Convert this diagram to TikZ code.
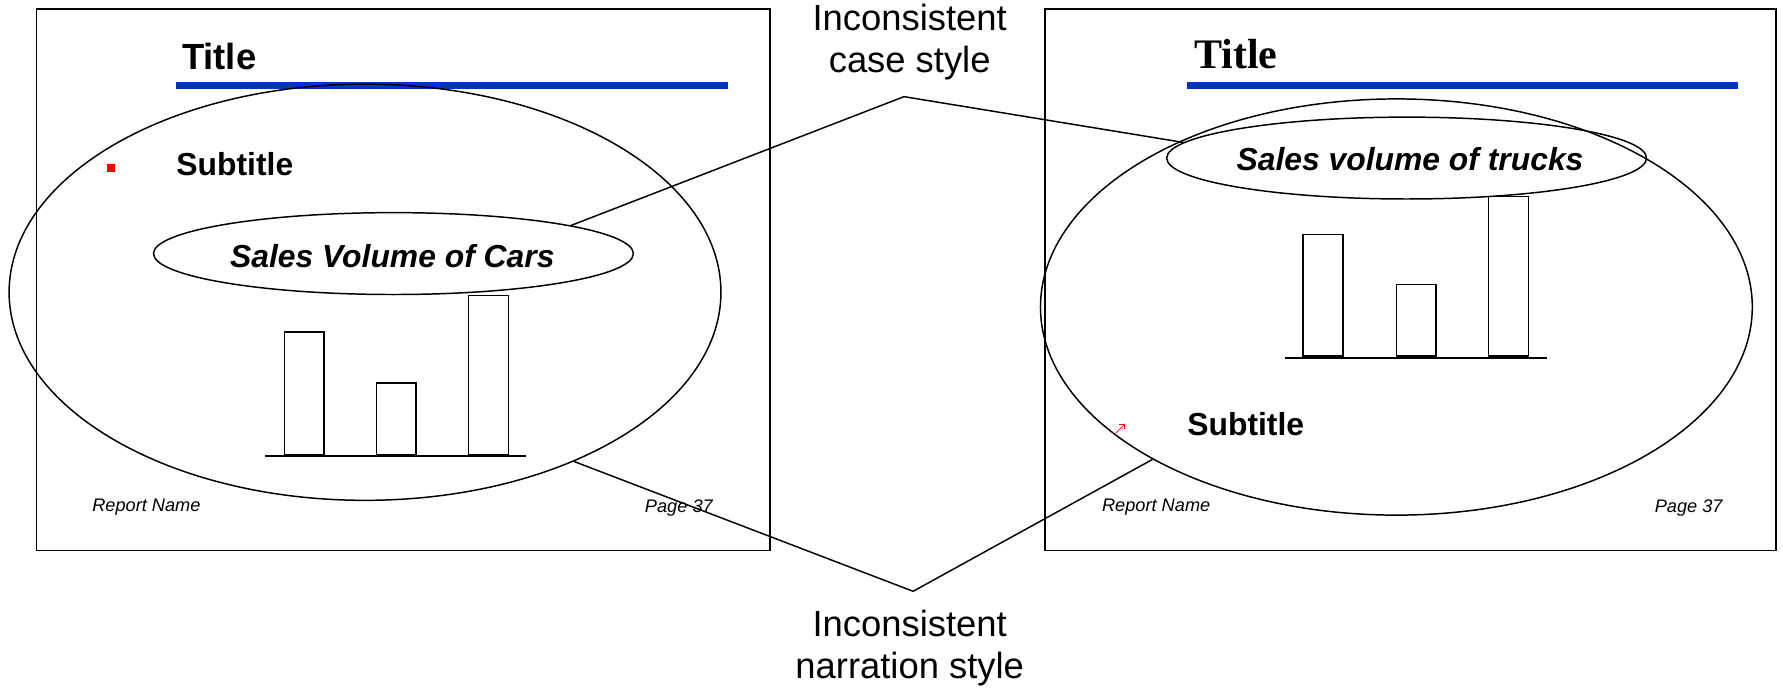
\documentclass[tikz,border=0pt]{standalone}
\usepackage{fontspec}
\setmainfont{Liberation Sans}
\newfontfamily\titleserif{Liberation Serif}
\usetikzlibrary{shapes.geometric,arrows.meta}
\definecolor{titleblue}{HTML}{0033CC}
\begin{document}
\begin{tikzpicture}[x=1pt,y=-1pt,
  frame/.style={draw, line width=1.3pt},
  bigell/.style={draw, ellipse, line width=1.3pt, minimum width=626pt, minimum height=366pt, inner sep=0pt},
  smallell/.style={draw, ellipse, line width=1.3pt, minimum width=422pt, minimum height=72pt, inner sep=0pt},
  elltext/.style={inner sep=0pt, font=\fontsize{28}{32}\selectfont\bfseries\itshape},
  bar/.style={draw, line width=1.3pt},
  callout/.style={line width=1.3pt},
  lbl/.style={align=center, font=\fontsize{32}{37}\selectfont, inner sep=0pt},
  foot/.style={font=\fontsize{16}{18}\selectfont\itshape, inner sep=0pt, anchor=base west},
  subt/.style={font=\fontsize{28}{32}\selectfont\bfseries, inner sep=0pt, anchor=base west},
  rule/.style={titleblue, line width=6pt}
]
\useasboundingbox (0,0) rectangle (1568,609);

% ---------- left slide ----------
\draw[frame] (32,8) rectangle (677,484);
\node[inner sep=0pt, anchor=base west, font=\fontsize{32}{36}\selectfont\bfseries] (tl) at (160,61) {Title};
\draw[rule] (155,75) -- (640,75);
\fill[red] (94,144) rectangle (101,151);
\node[subt] (stl) at (155,154) {Subtitle};
\node[smallell] (sl) at (346,223) {};
\node[elltext] (slt) at (345,225) {Sales Volume of Cars};
\draw[bar] (250,292) rectangle (285,400);
\draw[bar] (331,337) rectangle (366,400);
\draw[bar] (412,260) rectangle (447,400);
\draw[bar] (233,401) -- (463,401);
\node[bigell] (bl) at (321,257) {};
\node[foot] (rnl) at (81,450) {Report Name};
\node[foot] (pgl) at (567,451) {Page 37};

% ---------- right slide ----------
\draw[frame] (919,8) rectangle (1562,484);
\node[inner sep=0pt, anchor=base west, font=\fontsize{37}{40}\selectfont\titleserif\bfseries] (tr) at (1050,60) {Title};
\draw[rule] (1044,75) -- (1528,75);
\node[smallell] (sr) at (1237,139) {};
\node[elltext] (srt) at (1240,140) {Sales volume of trucks};
\draw[bar] (1146,206) rectangle (1181,313);
\draw[bar] (1228,250) rectangle (1263,313);
\draw[bar] (1309,173) rectangle (1344,313);
\draw[bar] (1130,315) -- (1360,315);
\node[bigell] (br) at (1228,270) {};
\draw[red, line width=0.6pt, -{Straight Barb[length=3pt]}] (981,381) -- (989,373);
\node[subt] (str) at (1044,383) {Subtitle};
\node[foot] (rnr) at (969,450) {Report Name};
\node[foot] (pgr) at (1455,451) {Page 37};

% ---------- callouts ----------
\node[lbl] (case) at (800,37) {Inconsistent\\case style};
\node[lbl] (narr) at (800,570) {Inconsistent\\narration style};
\coordinate (caseV) at (795,85);
\coordinate (narrV) at (803,520);
\draw[callout] (sl.9) -- (caseV) -- (sr.176);
\draw[callout] (bl.-39) -- (narrV) -- (br.-148);
\end{tikzpicture}
\end{document}
